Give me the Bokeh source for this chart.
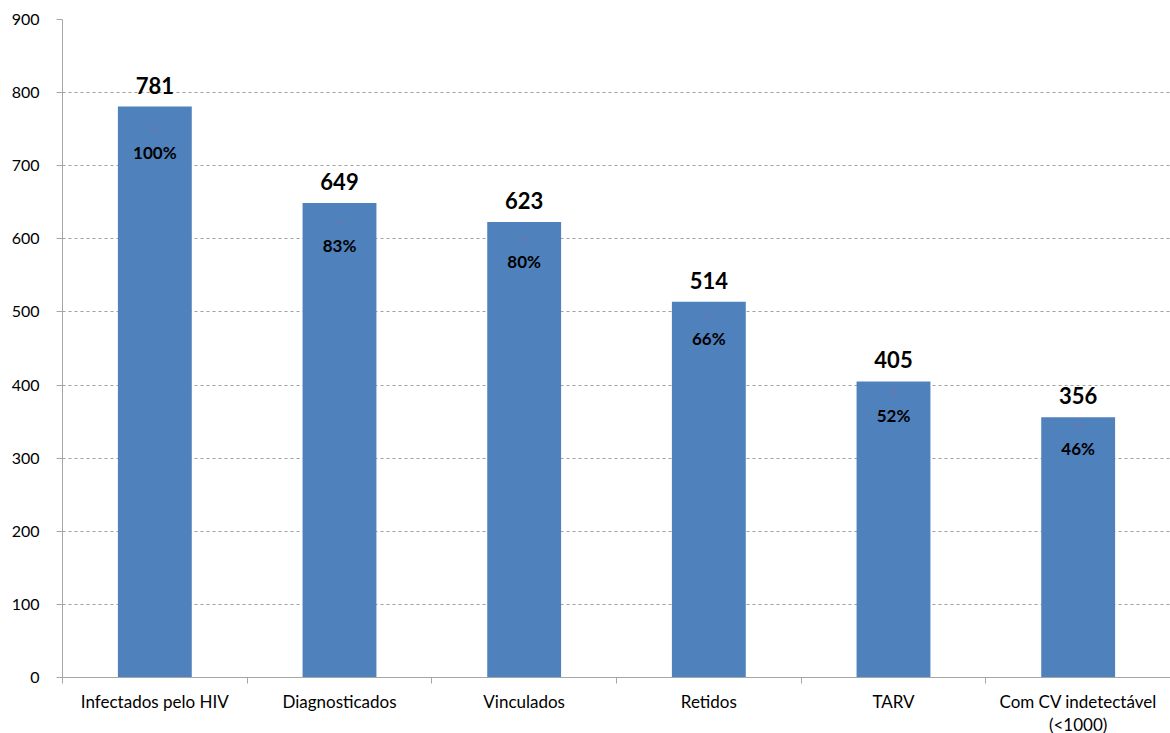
from bokeh.plotting import figure
from bokeh.models import ColumnDataSource, Range1d, FixedTicker
from bokeh.core.properties import value
from bokeh.embed import file_html
from bokeh.resources import INLINE

categories = ["Infectados pelo HIV", "Diagnosticados", "Vinculados", "Retidos", "TARV", "Com CV indetectável\n(<1000)"]
counts = [781, 649, 623, 514, 405, 356]
percents = [1.00, 0.83, 0.80, 0.66, 0.52, 0.46]
pct_labels = ["100%", "83%", "80%", "66%", "52%", "46%"]
y_ticks = [0, 100, 200, 300, 400, 500, 600, 700, 800, 900]

FONT = "Lato"
xs = [i + 0.5 for i in range(len(categories))]

src = ColumnDataSource(dict(x=xs, top=counts, pct=percents,
                            lab=[str(c) for c in counts], plab=pct_labels))

p = figure(frame_width=1108, frame_height=658, output_backend="svg", toolbar_location=None,
           x_range=Range1d(0, len(categories)), y_range=Range1d(0, 900),
           min_border_left=62, min_border_right=0, min_border_top=19, min_border_bottom=0)
p.outline_line_color = None
p.extra_y_ranges = {"pct": Range1d(0, 1.2)}

p.vbar(x="x", top="top", width=0.4, bottom=0, source=src,
       fill_color="#4F81BD", line_color=None)

p.scatter(x="x", y="pct", y_range_name="pct", source=src, marker="x", size=8,
          line_color="#8B6A9C", line_alpha=0.7, line_width=1)

p.text(x="x", y="top", text="lab", source=src, text_align="center",
       text_baseline="bottom", y_offset=-13, text_font=value(FONT),
       text_font_style="bold", text_font_size="22px", text_color="#000000")

p.text(x="x", y="pct", text="plab", source=src, y_range_name="pct",
       text_align="center", text_baseline="middle", y_offset=23,
       text_font=value(FONT), text_font_style="bold", text_font_size="17px",
       text_color="#000000")

# axes
xa = p.xaxis[0]
xa.ticker = FixedTicker(ticks=xs, minor_ticks=list(range(len(categories) + 1)))
xa.major_label_overrides = {x: c for x, c in zip(xs, categories)}
xa.major_tick_line_color = None
xa.major_tick_out = 0
xa.minor_tick_in = 0
xa.minor_tick_out = 6
xa.minor_tick_line_color = "#A6A6A6"
xa.axis_line_color = "#A6A6A6"
xa.major_label_standoff = 7
xa.major_label_text_line_height = 1.1
xa.major_label_text_font = FONT
xa.major_label_text_font_size = "17px"
xa.major_label_text_color = "#000000"

ya = p.yaxis[0]
ya.ticker = FixedTicker(ticks=y_ticks)
ya.minor_tick_line_color = None
ya.major_tick_in = 0
ya.major_tick_out = 6
ya.major_tick_line_color = "#A6A6A6"
ya.axis_line_color = "#A6A6A6"
ya.major_label_standoff = 17
ya.major_label_text_font = FONT
ya.major_label_text_font_size = "16px"
ya.major_label_text_color = "#000000"

p.xgrid.grid_line_color = None
p.ygrid.grid_line_color = "#A0A0A0"
p.ygrid.grid_line_dash = "3 3"
p.ygrid.grid_line_width = 1

open("out.html", "w").write(file_html(p, INLINE))
